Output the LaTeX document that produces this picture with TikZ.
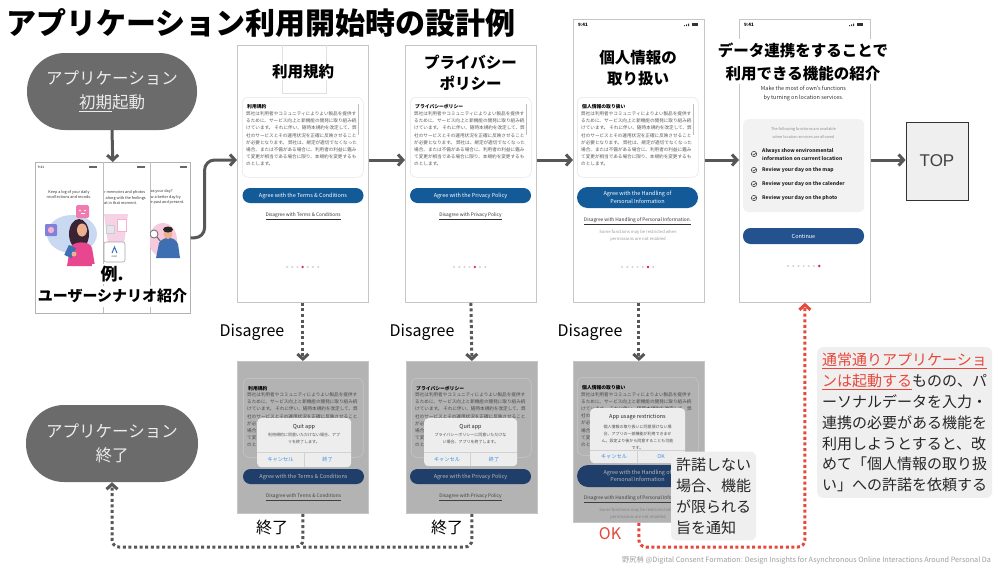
\documentclass[tikz,border=0pt]{standalone}
\usepackage{fontspec}
\setmainfont{Noto Sans CJK JP}
\newfontfamily\topfont{Liberation Sans}
\usetikzlibrary{arrows.meta,calc}

\definecolor{conngray}{HTML}{575757}
\definecolor{ovalgray}{HTML}{6B6B6B}
\definecolor{ovaltext}{HTML}{ECECEC}
\definecolor{alertred}{HTML}{E8473B}
\definecolor{framegray}{HTML}{C6C6C6}
\definecolor{btnblue}{HTML}{135A98}
\definecolor{contblue}{HTML}{24528F}
\definecolor{btndark}{HTML}{1F3E69}
\definecolor{screenshade}{HTML}{B3B3B3}
\definecolor{dotpink}{HTML}{E5197A}
\definecolor{notebg}{HTML}{EFEFEF}
\definecolor{bodytext}{HTML}{5A5A5A}
\definecolor{dimtext}{HTML}{4A4A4A}
\definecolor{iosblue}{HTML}{3A8EE6}
\definecolor{blobblue}{HTML}{C9D9F2}
\definecolor{girlhair}{HTML}{3A2433}
\definecolor{skin}{HTML}{EDB08E}
\definecolor{shirtpink}{HTML}{E8468F}
\definecolor{bubblepink}{HTML}{F07BB0}
\definecolor{bubbleviolet}{HTML}{7F82D8}
\definecolor{beampink}{HTML}{F6D3E4}
\definecolor{shirtblue}{HTML}{3D6FB2}
\definecolor{blobpink}{HTML}{F7C9DC}

\newcommand\fs[2]{\fontsize{#1}{#2}\selectfont}

% body copy shared by the policy cards
\newcommand\policybody{弊社は利用者やコミュニティによりよい製品を提供す\\るために、サービス向上と新機能の開発に取り組み続\\けています。 それに伴い、随時本規約を改定して、弊\\社のサービスとその運用状況を正確に反映させること\\が必要となります。 弊社は、規定が適切でなくなった\\場合、または不備がある場合に、利用者の利益に鑑み\\て変更が相当である場合に限り、本規約を変更するも\\のとします。}
% the same copy where a dialog hides most of it
\newcommand\policyfour{弊社は利用者やコミュニティによりよい製品を提供す\\るために、サービス向上と新機能の開発に取り組み続\\けています。 それに伴い、随時本規約を改定して、弊\\社のサービスとその運用状況を正確に反映させること}
\newcommand\policythree{弊社は利用者やコミュニティによりよい製品を提供す\\るために、サービス向上と新機能の開発に取り組み続\\けています。 それに伴い、随時本規約を改定して、弊}

\tikzset{
  conn/.style={draw=conngray, line width=3pt, -{Straight Barb[length=5pt,width=11pt]}},
  dotline/.style={draw=conngray, line width=3pt, dash pattern=on 3pt off 2.6pt, rounded corners=7pt},
  dotconn/.style={dotline, -{Straight Barb[length=5pt,width=11pt]}},
  reddot/.style={dotconn, draw=alertred},
  oval/.style={fill=ovalgray, rounded corners=38pt, minimum height=77pt, text=ovaltext, font=\fs{16.5}{24}, align=center},
  phone/.style={draw=framegray, fill=white, line width=0.8pt, minimum width=131pt, anchor=north west, inner sep=0pt},
  dimphone/.style={phone, fill=screenshade},
  heading/.style={font=\fs{15.5}{21.5}\bfseries, align=center},
  card/.style={draw=black!10, rounded corners=6pt, minimum width=121pt, minimum height=80pt, anchor=north west, inner sep=0pt, line width=0.5pt},
  dimcard/.style={card, draw=black!22},
  cardhead/.style={font=\fs{4.8}{6}\bfseries, anchor=west, inner sep=0pt},
  cardbody/.style={font=\fs{4.6}{7.2}, text=bodytext, align=left, anchor=north west, inner sep=0pt},
  dimbody/.style={cardbody, text=dimtext},
  btn/.style={fill=btnblue, text=white, rounded corners=7.5pt, minimum width=121pt, minimum height=15pt, font=\fs{5.5}{7}, inner sep=0pt, align=center},
  dimbtn/.style={btn, fill=btndark, text=black!28},
  link/.style={font=\fs{4.8}{6}, text=black!80, inner sep=0pt},
  finetext/.style={font=\fs{4.2}{7}, text=black!40, align=center, inner sep=0pt},
  status/.style={font=\fs{4.5}{5}\bfseries, inner sep=0pt},
  dialog/.style={fill=black!7, rounded corners=4pt, anchor=north west, inner sep=0pt},
  dlgtitle/.style={font=\fs{5.5}{6}, text=black!85, inner sep=0pt},
  dlgtext/.style={font=\fs{4}{6.5}, text=black!70, align=center, inner sep=0pt},
  dlgbtn/.style={font=\fs{5.2}{6}, text=iosblue, inner sep=0pt},
  captxt/.style={font=\fs{16}{18}, inner sep=0pt},
  note/.style={fill=notebg, rounded corners=6pt, inner xsep=5pt, inner ysep=6pt, align=left, font=\fs{15}{20.8}, text=black!85},
  feature/.style={font=\fs{5}{8}\bfseries, anchor=west, align=left, inner sep=0pt, text=black!85},
  tinycap/.style={font=\fs{3.8}{5.3}, inner sep=0pt, text=black!80},
}

\begin{document}
\begin{tikzpicture}[x=1pt, y=-1pt]
\useasboundingbox[fill=white] (0,0) rectangle (993,565);

\coordinate (row) at (0,160);
\coordinate (base) at (0,547);

% ---------- title ----------
\node[anchor=west, font=\fs{30}{32}\bfseries, inner sep=0pt] (title) at (6,23) {アプリケーション利用開始時の設計例};

% ---------- start / end ovals ----------
\node[oval, minimum width=170pt] (oval1) at (112,91.5) {アプリケーション\\\underline{初期}起動};
\node[oval, minimum width=172pt] (oval2) at (112,443.5) {アプリケーション\\終了};

% ---------- onboarding storyboard ----------
\node[draw=black!30, fill=white, line width=0.6pt, minimum width=155pt, minimum height=151pt, anchor=north west, inner sep=0pt] (story) at (35,162) {};
\draw[black!25, line width=0.5pt] (103,162) -- (103,313) (150,162) -- (150,313);
\begin{scope}
  \clip (35,162) rectangle (103,313);
  \node[font=\fs{3.2}{4}, inner sep=0pt] (s1time) at (41,167) {9:41};
  \fill[black!60] (89,165.5) rectangle (97,167.5);
  \node[tinycap, align=center] (s1cap) at (69,194.5) {Keep a log of your daily\\recollections and moods.};
  \fill[blobblue] (72,234) ellipse[x radius=25pt, y radius=19pt];
  \fill[bubbleviolet, rounded corners=1pt] (45,224) rectangle (57,236);
  \fill[bubblepink!60] (51,230) circle[radius=3.2pt];
  \fill[bubblepink, rounded corners=1.5pt] (76,205) rectangle (89,218);
  \fill[white] (80,210.5) circle[radius=0.8pt] (85,210.5) circle[radius=0.8pt];
  \draw[white, line width=0.5pt] (80.5,213.5) -- (84.5,213.5);
  \fill[girlhair] (79,234) ellipse[x radius=10pt, y radius=15pt];
  \fill[skin] (82,230) ellipse[x radius=5pt, y radius=6.5pt];
  \fill[shirtpink] (67,266) -- (70,248) .. controls (72,241) and (90,240) .. (92,248) -- (95,266) -- cycle;
  \fill[shirtblue, rotate around={-25:(70,252)}] (66,246) rectangle (74,257);
  \fill[skin] (74,254) circle[radius=2.5pt];
\end{scope}
\begin{scope}
  \clip (103,162) rectangle (150,313);
  \fill[black!60] (137,165.5) rectangle (145,167.5);
  \node[tinycap, align=left, anchor=north west] (s2cap) at (104,190.5) {r memories and photos\\\hspace{1.5pt}along with the feelings\\at in that moment.};
  \fill[beampink] (104,214) -- (128,214) -- (124,244) -- (108,244) -- cycle;
  \fill[blobblue!80!black!30, draw=black!20, line width=0.3pt] (106,225) rectangle (114,233);
  \fill[white, draw=bubblepink!60, line width=0.4pt] (117,219) rectangle (126,231);
  \draw[black!35, fill=white, line width=0.6pt, rounded corners=2pt] (104,242) rectangle (125,262);
  \draw[shirtblue, line width=1pt] (112,253) -- (114.5,247) -- (117,253);
  \node[font=\fs{2.8}{3}, inner sep=0pt, text=black!70] (s2logo) at (114.5,257) {own};
\end{scope}
\begin{scope}
  \clip (150,162) rectangle (190,313);
  \fill[black!60] (180,165.5) rectangle (187,167.5);
  \node[tinycap, align=left, anchor=north west] (s3cap) at (150.5,189.5) {as your day?\\w a better day by\\e past and present.};
  \fill[blobpink] (163,240) ellipse[x radius=14pt, y radius=17pt];
  \fill[shirtblue] (156,258) -- (159,243) .. controls (163,236) and (175,236) .. (178,244) -- (180,258) -- cycle;
  \fill[skin] (168,234) ellipse[x radius=4.5pt, y radius=5pt];
  \fill[black!85] (168,229.5) ellipse[x radius=5pt, y radius=3pt];
  \draw[black!60, line width=0.8pt, fill=white] (154,234) circle[radius=4pt];
  \draw[black!60, line width=1pt] (157,237) -- (161,242);
\end{scope}
\node[fill=white, minimum width=40pt, minimum height=20pt, inner sep=0pt, font=\fs{17}{18}\bfseries] (storyex) at (112,274) {例.};
\node[fill=white, minimum width=152pt, minimum height=21pt, inner sep=0pt, font=\fs{15}{16}\bfseries] (storyname) at (112.5,296) {ユーザーシナリオ紹介};

% ---------- phone 1: terms ----------
\node[phone, minimum height=257pt] (p1) at (237,45) {};
\draw[black!12, line width=0.6pt] (282,45) -- (282,93) -- (326,93) -- (326,45);
\node[heading, fill=white, inner sep=1pt] (p1title) at (303,72) {利用規約};
\node[card] (p1card) at (242,97) {};
\node[cardhead] (p1head) at (247,107) {利用規約};
\node[cardbody] (p1body) at (246,111.5) {\policybody};
\draw[black!25, line width=0.8pt] (358,104) -- (358,135);
\node[btn] (p1btn) at (303,195.5) {Agree with the Terms \& Conditions};
\node[link] (p1link) at (303,216) {\underline{Disagree with Terms \& Conditions}};
\foreach \i in {0,...,6} \fill[black!18] ({287+\i*5.2},267) circle[radius=1.1pt];
\fill[dotpink] ({287+3*5.2},267) circle[radius=1.3pt];

% ---------- phone 2: privacy policy ----------
\node[phone, minimum height=257pt] (p2) at (405,45) {};
\node[heading] (p2title) at (470.5,73) {プライバシー\\ポリシー};
\node[card] (p2card) at (410,97) {};
\node[cardhead] (p2head) at (415,107) {プライバシーポリシー};
\node[cardbody] (p2body) at (414,111.5) {\policybody};
\draw[black!25, line width=0.8pt] (526,104) -- (526,135);
\node[btn] (p2btn) at (470.5,195.5) {Agree with the Privacy Policy};
\node[link] (p2link) at (470.5,216) {\underline{Disagree with Privacy Policy}};
\foreach \i in {0,...,6} \fill[black!18] ({454+\i*5.2},267) circle[radius=1.1pt];
\fill[dotpink] ({454+4*5.2},267) circle[radius=1.3pt];

% ---------- phone 3: handling of personal information ----------
\node[phone, minimum height=283pt] (p3) at (573,19) {};
\node[status] (p3time) at (583,25) {9:41};
\fill[black!80] (684,26) rectangle (685,25) (686,26) rectangle (687,24.3) (688,26) rectangle (689,23.5);
\fill[black!80] (692,23.3) rectangle (698,26.3);
\node[heading] (p3title) at (638,68) {個人情報の\\取り扱い};
\node[card] (p3card) at (577,97) {};
\node[cardhead] (p3head) at (582,107) {個人情報の取り扱い};
\node[cardbody] (p3body) at (581,111.5) {\policybody};
\draw[black!25, line width=0.8pt] (693,104) -- (693,135);
\node[btn, minimum height=21pt, rounded corners=10.5pt, font=\fs{5.5}{7.5}] (p3btn) at (637.5,197.5) {Agree with the Handling of\\Personal Information};
\node[link] (p3link) at (637.5,221.5) {\underline{Disagree with Handling of Personal Information.}};
\node[finetext] (p3fine) at (638,235.5) {Some functions may be restricted when\\permissions are not enabled};
\foreach \i in {0,...,6} \fill[black!18] ({622+\i*5.2},267) circle[radius=1.1pt];
\fill[dotpink] ({622+5*5.2},267) circle[radius=1.3pt];

% ---------- phone 4: features unlocked by data sharing ----------
\node[phone, minimum height=283pt] (p4) at (739,19) {};
\node[status] (p4time) at (749,25) {9:41};
\fill[black!80] (849,26) rectangle (850,25) (851,26) rectangle (852,24.3) (853,26) rectangle (854,23.5);
\fill[black!80] (857,23.3) rectangle (863,26.3);
\node[fill=white, font=\fs{15.5}{23}\bfseries, align=center, inner xsep=2pt, inner ysep=3pt] (p4title) at (803,61.5) {データ連携をすることで\\利用できる機能の紹介};
\node[font=\fs{5.5}{9.5}, align=center, inner sep=0pt, text=black!80] (p4lead) at (803.5,93.5) {Make the most of own's functions\\by turning on location services.};
\node[fill=black!5, rounded corners=5pt, minimum width=121pt, minimum height=93pt, anchor=north west, inner sep=0pt] (p4box) at (743,119) {};
\node[font=\fs{3.8}{8}, align=center, inner sep=0pt, text=black!45] (p4boxcap) at (803.5,133) {The following functions are available\\when location services are allowed};
\foreach \y in {154,170,184,198} {
  \draw[black!80, line width=0.5pt] (754,\y) circle[radius=2.7pt];
  \draw[black!80, line width=0.5pt] (752.7,\y) -- (753.8,{\y+1.1}) -- (755.8,{\y-1.2});
}
\node[feature] (p4f1) at (762,154) {Always show environmental\\information on current location};
\node[feature] (p4f2) at (762,170) {Review your day on the map};
\node[feature] (p4f3) at (762,184) {Review your day on the calender};
\node[feature] (p4f4) at (762,198) {Review your day on the photo};
\node[btn, fill=contblue, minimum height=16pt] (p4btn) at (803.5,236) {Continue};
\foreach \i in {0,...,6} \fill[black!18] ({788+\i*5.2},266) circle[radius=1.1pt];
\fill[dotpink] ({788+6*5.2},266) circle[radius=1.3pt];

% ---------- destination ----------
\node[draw=black!80, fill=notebg, line width=0.8pt, minimum width=62pt, minimum height=78pt, font=\topfont\fs{17}{20}, text=black!75] (top) at (937,161) {TOP};

% ---------- declined screens with dialogs ----------
\node[dimphone, minimum height=152pt] (p1d) at (237,361) {};
\node[dimcard, minimum width=120pt, minimum height=79pt] (p1dcard) at (243,378) {};
\node[cardhead] (p1dhead) at (248,388.5) {利用規約};
\node[dimbody] (p1dbody) at (247,392.5) {\policyfour};
\node[dimbody] (p1dedge) at (247,421.3) {が必\\場合\\て変\\のと};
\node[dialog, minimum width=94pt, minimum height=49pt] (p1dlg) at (257,418) {};
\node[dlgtitle] (p1dlgt) at (304,427) {Quit app};
\node[dlgtext] (p1dlgm) at (304,438.5) {利用規約に同意いただけない場合、アプ\\リを終了します。};
\draw[black!18, line width=0.4pt] (257,452) -- (351,452) (304,452) -- (304,467);
\node[dlgbtn] (p1dno) at (280.5,459.5) {キャンセル};
\node[dlgbtn] (p1dyes) at (327.5,459.5) {終了};
\node[dimbtn] (p1dbtn) at (303.5,476.5) {Agree with the Terms \& Conditions};
\node[link, text=black!75] (p1dlink) at (303.5,497) {\underline{Disagree with Terms \& Conditions}};

\node[dimphone, minimum height=152pt] (p2d) at (406,361) {};
\node[dimcard, minimum width=120pt, minimum height=79pt] (p2dcard) at (411,378) {};
\node[cardhead] (p2dhead) at (416,388.5) {プライバシーポリシー};
\node[dimbody] (p2dbody) at (415,392.5) {\policyfour};
\node[dimbody] (p2dedge) at (415,421.3) {が必\\場合\\て変\\のと};
\node[dialog, minimum width=93pt, minimum height=48pt] (p2dlg) at (424,418) {};
\node[dlgtitle] (p2dlgt) at (470.5,427) {Quit app};
\node[dlgtext] (p2dlgm) at (470.5,438.5) {プライバシーポリシーに同意いただけな\\い場合、アプリを終了します。};
\draw[black!18, line width=0.4pt] (424,452) -- (517,452) (470.5,452) -- (470.5,466);
\node[dlgbtn] (p2dno) at (447,459.5) {キャンセル};
\node[dlgbtn] (p2dyes) at (494,459.5) {終了};
\node[dimbtn] (p2dbtn) at (470.5,476.5) {Agree with the Privacy Policy};
\node[link, text=black!75] (p2dlink) at (470.5,497) {\underline{Disagree with Privacy Policy}};

\node[dimphone, minimum height=161pt] (p3d) at (573,361) {};
\node[dimcard, minimum width=121pt, minimum height=78pt] (p3dcard) at (577,377) {};
\node[cardhead] (p3dhead) at (582,388) {個人情報の取り扱い};
\node[dimbody] (p3dbody) at (581,392) {\policythree};
\node[dimbody] (p3dedge) at (581,413.6) {社の\\が必\\場合\\て変\\のと};
\node[dialog, minimum width=95pt, minimum height=55pt] (p3dlg) at (590,408) {};
\node[dlgtitle] (p3dlgt) at (637.5,417) {App usage restrictions};
\node[dlgtext, font=\fs{4}{7}] (p3dlgm) at (637.5,437.5) {個人情報の取り扱いに同意頂けない場\\合、アプリの一部機能が利用できませ\\ん。設定より後から同意することも可能\\です。};
\draw[black!18, line width=0.4pt] (590,450) -- (685,450) (637.5,450) -- (637.5,463);
\node[dlgbtn] (p3dno) at (614,456.5) {キャンセル};
\node[dlgbtn] (p3dyes) at (661,456.5) {OK};
\node[dimbtn, minimum height=22pt, rounded corners=11pt, font=\fs{5.5}{7.5}] (p3dbtn) at (637.5,476) {Agree with the Handling of\\Personal Information};
\node[link, text=black!75] (p3dlink) at (637.5,499) {\underline{Disagree with Handling of Personal Information.}};
\node[finetext, text=black!50] (p3dfine) at (638,513.5) {Some functions may be restricted when\\permissions are not enabled};

% ---------- notes ----------
\node[note, font=\fs{15}{21}] (note1) at (713.5,496) {許諾しない\\場合、機能\\が限られる\\旨を通知};
\node[note, anchor=north west] (note2) at (817,347) {{\color{alertred}\underline{通常通りアプリケーショ}}\\{\color{alertred}\underline{ンは起動する}}ものの、パ\\ーソナルデータを入力・\\連携の必要がある機能を\\利用しようとすると、改\\めて「個人情報の取り扱\\い」への許諾を依頼する};

% ---------- labels ----------
\node[captxt] (dis1) at (252,332) {Disagree};
\node[captxt] (dis2) at (422,332) {Disagree};
\node[captxt] (dis3) at (590,332) {Disagree};
\node[captxt] (end1) at (272,527) {終了};
\node[captxt] (end2) at (447,527) {終了};
\node[captxt, text=alertred] (okl) at (610,534) {OK};

% ---------- connectors ----------
\draw[conn] (oval1.south) -- (story.north);
\draw[conn, rounded corners=10pt] (story.east) -- ++(14,0) |- (p1.west |- row);
\draw[conn] (p1.east |- row) -- (p2.west |- row);
\draw[conn] (p2.east |- row) -- (p3.west |- row);
\draw[conn] (p3.east |- row) -- (p4.west |- row);
\draw[conn] (p4.east |- row) -- (top.west |- row);

\draw[dotconn] (p1.south) -- (p1d.north);
\draw[dotconn] (p2.south) -- (p2d.north);
\draw[dotconn] (p3.south) -- (p3d.north);

\draw[dotconn] (p1d.south) -- (p1d.south |- base) -| (oval2.south);
\draw[dotline] (p2d.south) -- (p2d.south |- base) -- (p1d.south |- base);
\draw[reddot] (p3d.south) -- (p3d.south |- base) -| (p4.south);

% ---------- credit line ----------
\node[anchor=west, font=\fs{7.25}{8}, text=black!38, inner sep=0pt] (credit) at (622,560) {野尻梢 @Digital Consent Formation: Design Insights for Asynchronous Online Interactions Around Personal Da};
\end{tikzpicture}
\end{document}
